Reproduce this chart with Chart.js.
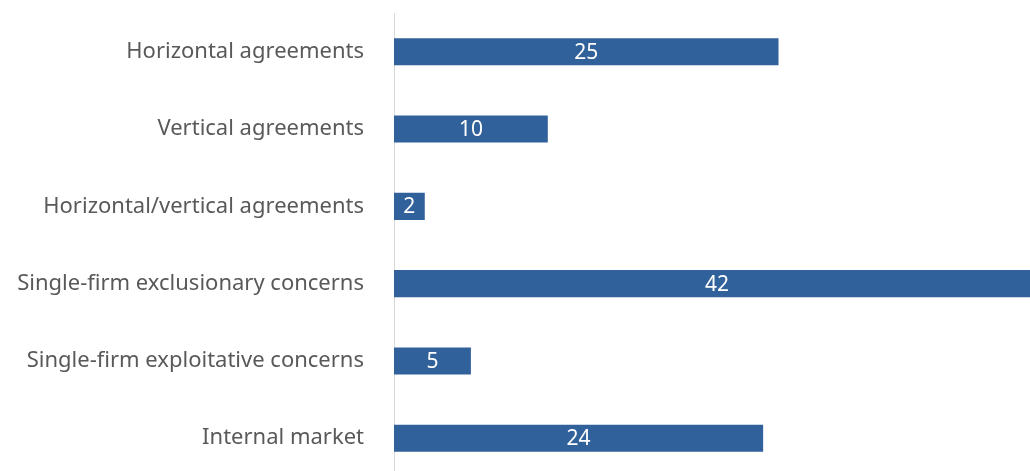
<!DOCTYPE html>
<html>
<head>
<meta charset="utf-8">
<script src="https://cdn.jsdelivr.net/npm/chart.js@4/dist/chart.umd.min.js"></script>
<style>
  html, body { margin: 0; padding: 0; background: #fff; overflow: hidden; }
  canvas { display: block; }
</style>
</head>
<body>
<canvas id="casesChart" width="1041" height="490"></canvas>
<script>
const categories = [
    'Horizontal agreements',
    'Vertical agreements',
    'Horizontal/vertical agreements',
    'Single-firm exclusionary concerns',
    'Single-firm exploitative concerns',
    'Internal market'
];
const caseCounts = [25, 10, 2, 42, 5, 24];

// Write each count in the middle of its bar
const barValueLabels = {
    id: 'barValueLabels',
    afterDatasetsDraw(chart) {
        const ctx = chart.ctx;
        const meta = chart.getDatasetMeta(0);
        ctx.save();
        ctx.fillStyle = '#ffffff';
        ctx.font = '21px "Noto Sans", sans-serif';
        ctx.textAlign = 'center';
        ctx.textBaseline = 'middle';
        meta.data.forEach(function (bar, i) {
            const cx = (bar.x + bar.base) / 2;
            ctx.fillText(String(caseCounts[i]), cx, bar.y + 1);
        });
        ctx.restore();
    }
};

new Chart(document.getElementById('casesChart'), {
    type: 'bar',
    data: {
        labels: categories,
        datasets: [{
            data: caseCounts,
            backgroundColor: '#31619A',
            borderWidth: 0,
            barPercentage: 0.35,
            categoryPercentage: 1
        }]
    },
    options: {
        indexAxis: 'y',
        responsive: false,
        animation: false,
        layout: { padding: { top: 8, right: 1, bottom: 0, left: 0 } },
        plugins: {
            legend: { display: false },
            tooltip: { enabled: false }
        },
        scales: {
            x: {
                display: false,
                min: 0,
                max: 42
            },
            y: {
                afterFit: function (scale) { scale.width = 394; },
                // invisible tick marks keep the labels clear of the axis line
                grid: {
                    drawOnChartArea: false,
                    drawTicks: true,
                    tickLength: 30,
                    tickColor: 'rgba(0,0,0,0)'
                },
                border: { display: true, color: '#d9d9d9', width: 1 },
                ticks: {
                    color: '#595959',
                    padding: 0,
                    font: { family: '"Noto Sans", sans-serif', size: 22 }
                }
            }
        }
    },
    plugins: [barValueLabels]
});
</script>
</body>
</html>
